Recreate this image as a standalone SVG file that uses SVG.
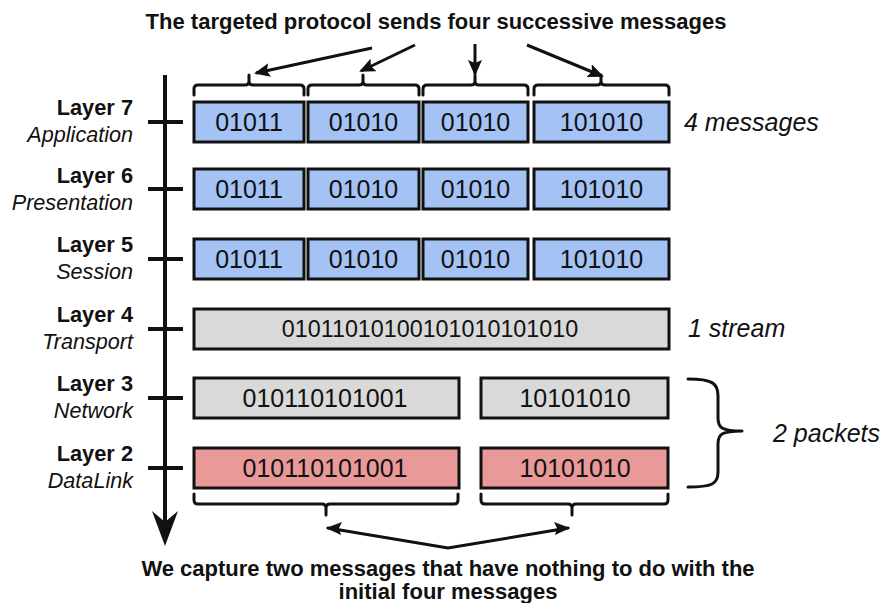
<svg xmlns="http://www.w3.org/2000/svg" width="885" height="603" viewBox="0 0 885 603">
<style>
.bg{fill:#fff}
.box{stroke:#111;stroke-width:3}
.blue{fill:#a4c2f4}
.gray{fill:#d9d9d9}
.red{fill:#ea9999}
.bt{font-family:"Liberation Sans",Arial,sans-serif;font-size:25px;fill:#111;text-anchor:middle}
.bt2{font-family:"Liberation Sans",Arial,sans-serif;font-size:23.3px;fill:#111;text-anchor:middle}
.lb{font-family:"Liberation Sans",Arial,sans-serif;font-size:21.8px;font-weight:bold;fill:#111;text-anchor:end}
.li{font-family:"Liberation Sans",Arial,sans-serif;font-size:21.6px;font-style:italic;fill:#111;text-anchor:end}
.side{font-family:"Liberation Sans",Arial,sans-serif;font-size:25px;font-style:italic;fill:#111}
.cap{font-family:"Liberation Sans",Arial,sans-serif;font-size:22px;font-weight:bold;fill:#111;text-anchor:middle}
.br{fill:none;stroke:#111;stroke-width:3;stroke-linejoin:round;stroke-linecap:round}
.ar{fill:none;stroke:#111;stroke-width:3;marker-end:url(#ah)}
.tick{stroke:#111;stroke-width:4}
</style>
<defs>
<marker id="ah" viewBox="0 0 16 14" refX="14" refY="7" markerWidth="16" markerHeight="14" markerUnits="userSpaceOnUse" orient="auto">
<path d="M0,0 L16,7 L0,14 L3,7 Z" fill="#111"/>
</marker>
</defs>
<rect class="bg" x="0" y="0" width="885" height="603"/>

<g id="title"><text class="cap" x="436" y="29">The targeted protocol sends four successive messages</text></g>

<g id="axis">
<line class="tick" x1="165" y1="75" x2="165" y2="525"/>
<path d="M165,546 L152,511 L165,522 L178,511 Z" fill="#111"/>
<line class="tick" x1="148" y1="122" x2="183" y2="122"/>
<line class="tick" x1="148" y1="189" x2="183" y2="189"/>
<line class="tick" x1="148" y1="259" x2="183" y2="259"/>
<line class="tick" x1="148" y1="329" x2="183" y2="329"/>
<line class="tick" x1="148" y1="398" x2="183" y2="398"/>
<line class="tick" x1="148" y1="468" x2="183" y2="468"/>
</g>

<g id="labels">
<text class="lb" x="133" y="115">Layer 7</text><text class="li" x="133" y="142">Application</text>
<text class="lb" x="133" y="183">Layer 6</text><text class="li" x="133" y="210">Presentation</text>
<text class="lb" x="133" y="252">Layer 5</text><text class="li" x="133" y="279">Session</text>
<text class="lb" x="133" y="322">Layer 4</text><text class="li" x="133" y="349">Transport</text>
<text class="lb" x="133" y="391">Layer 3</text><text class="li" x="133" y="418">Network</text>
<text class="lb" x="133" y="461">Layer 2</text><text class="li" x="133" y="488">DataLink</text>
</g>

<g id="layer7">
<rect class="box blue" x="194" y="102" width="110" height="40"/><text class="bt" x="249" y="131">01011</text>
<rect class="box blue" x="308" y="102" width="111" height="40"/><text class="bt" x="363.5" y="131">01010</text>
<rect class="box blue" x="423" y="102" width="105" height="40"/><text class="bt" x="475.5" y="131">01010</text>
<rect class="box blue" x="534" y="102" width="135" height="40"/><text class="bt" x="601.5" y="131">101010</text>
</g>
<g id="layer6">
<rect class="box blue" x="194" y="169" width="110" height="40"/><text class="bt" x="249" y="198">01011</text>
<rect class="box blue" x="308" y="169" width="111" height="40"/><text class="bt" x="363.5" y="198">01010</text>
<rect class="box blue" x="423" y="169" width="105" height="40"/><text class="bt" x="475.5" y="198">01010</text>
<rect class="box blue" x="534" y="169" width="135" height="40"/><text class="bt" x="601.5" y="198">101010</text>
</g>
<g id="layer5">
<rect class="box blue" x="194" y="239" width="110" height="40"/><text class="bt" x="249" y="268">01011</text>
<rect class="box blue" x="308" y="239" width="111" height="40"/><text class="bt" x="363.5" y="268">01010</text>
<rect class="box blue" x="423" y="239" width="105" height="40"/><text class="bt" x="475.5" y="268">01010</text>
<rect class="box blue" x="534" y="239" width="135" height="40"/><text class="bt" x="601.5" y="268">101010</text>
</g>
<g id="layer4">
<rect class="box gray" x="194" y="309" width="475" height="40"/><text class="bt2" x="430" y="337">01011010100101010101010</text>
</g>
<g id="layer3">
<rect class="box gray" x="194" y="378" width="265" height="40"/><text class="bt" x="325" y="407">010110101001</text>
<rect class="box gray" x="481" y="378" width="187" height="40"/><text class="bt" x="575" y="407">10101010</text>
</g>
<g id="layer2">
<rect class="box red" x="194" y="448" width="265" height="40"/><text class="bt" x="325" y="477">010110101001</text>
<rect class="box red" x="481" y="448" width="187" height="40"/><text class="bt" x="575" y="477">10101010</text>
</g>

<g id="side-labels">
<text class="side" x="684" y="131">4 messages</text>
<text class="side" x="688" y="337">1 stream</text>
<text class="side" x="773" y="442">2 packets</text>
</g>

<g id="connectors">
<path class="br" d="M194,95 L194,89 Q194,85 198,85 L245,85 Q249,85 249,81 L249,75 M249,81 Q249,85 253,85 L300,85 Q304,85 304,89 L304,95"/>
<path class="br" d="M308,95 L308,89 Q308,85 312,85 L359,85 Q363,85 363,81 L363,75 M363,81 Q363,85 367,85 L415,85 Q419,85 419,89 L419,95"/>
<path class="br" d="M423,95 L423,89 Q423,85 427,85 L471,85 Q475,85 475,81 L475,75 M475,81 Q475,85 479,85 L524,85 Q528,85 528,89 L528,95"/>
<path class="br" d="M534,95 L534,89 Q534,85 538,85 L597,85 Q601,85 601,81 L601,75 M601,81 Q601,85 605,85 L665,85 Q669,85 669,89 L669,95"/>
<line class="ar" x1="372" y1="48" x2="256" y2="73"/>
<line class="ar" x1="415" y1="45" x2="361" y2="71"/>
<line class="ar" x1="475" y1="44" x2="475" y2="74"/>
<line class="ar" x1="527" y1="45" x2="602" y2="76"/>
<path class="br" d="M194,494 L194,500 Q194,504 198,504 L322,504 Q326,504 326,508 L326,515 M326,508 Q326,504 330,504 L454,504 Q458,504 458,500 L458,494"/>
<path class="br" d="M481,494 L481,500 Q481,504 485,504 L568,504 Q572,504 572,508 L572,515 M572,508 Q572,504 576,504 L664,504 Q668,504 668,500 L668,494"/>
<path class="br" d="M688,379 C712,379 718,383 718,396 L718,418 C718,428 722,431 742,431 M742,431 C722,431 718,434 718,444 L718,472 C718,484 712,487 688,487"/>
<polyline class="br" points="328,528 448,548 568,528" style="stroke-linejoin:miter"/>
<path d="M326,528 L342,522 L339,528 L341,535 Z" fill="#111"/>
<path d="M570,528 L554,522 L557,528 L555,535 Z" fill="#111"/>
</g>

<g id="caption">
<text class="cap" x="448" y="576">We capture two messages that have nothing to do with the</text>
<text class="cap" x="448" y="599">initial four messages</text>
</g>
</svg>
